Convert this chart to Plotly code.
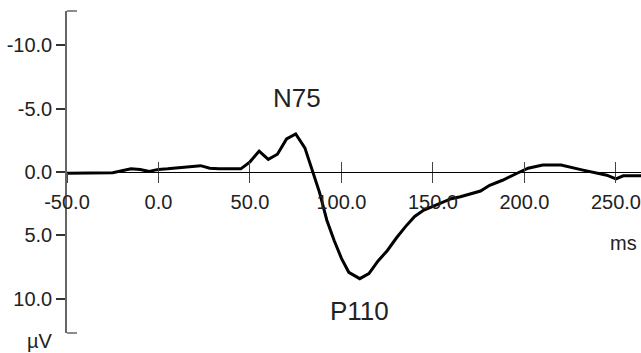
import plotly.graph_objects as go

# Data (latency in ms, amplitude in µV; negative plotted upward)
time_ms = [-50, -40, -30, -25, -20, -15, -10, -5, -2, 0, 5, 12, 18, 23, 28, 33, 40, 45,
           50, 55, 60, 65, 70, 75, 80, 84, 88, 92, 96, 100, 104, 110, 115, 120, 125,
           130, 135, 140, 145, 150, 155, 160, 165, 170, 176, 181, 188, 196, 202, 210,
           220, 232, 245, 250, 254, 264]
amp_uv = [0.1, 0.1, 0.1, 0.05, -0.1, -0.25, -0.2, -0.05, -0.15, -0.2, -0.25, -0.35, -0.4,
          -0.5, -0.3, -0.25, -0.25, -0.25, -0.8, -1.65, -1.0, -1.4, -2.6, -3.0, -1.9,
          -0.2, 1.6, 3.8, 5.4, 6.8, 7.9, 8.4, 8.0, 7.0, 6.2, 5.2, 4.3, 3.5, 3.0, 2.7,
          2.4, 2.1, 1.95, 1.75, 1.5, 1.05, 0.65, 0.1, -0.3, -0.55, -0.55, -0.15, 0.25,
          0.55, 0.3, 0.3]

x_ticks = [-50, 0, 50, 100, 150, 200, 250]
x_tick_labels = ["-50.0", "0.0", "50.0", "100.0", "150.0", "200.0", "250.0"]
y_ticks = [-10, -5, 0, 5, 10]
y_tick_labels = ["-10.0", "-5.0", "0.0", "5.0", "10.0"]

peak_labels = ["N75", "P110"]
peak_pos_ms = [75.7, 110.1]
peak_pos_uv = [-5.83, 10.94]

FONT = "Liberation Sans, Arial, sans-serif"
x_range = [-50, 263.7]
y_range = [12.68, -12.68]  # reversed: negative up
zero_pos = (0 - y_range[0]) / (y_range[1] - y_range[0])

fig = go.Figure()
fig.add_trace(go.Scatter(x=time_ms, y=amp_uv, mode="lines",
                         line=dict(color="black", width=3), showlegend=False,
                         cliponaxis=True))
# dummy trace for the second x axis (inside ticks)
fig.add_trace(go.Scatter(x=[x_range[0]], y=[0], xaxis="x2", mode="markers",
                         marker=dict(opacity=0), showlegend=False, hoverinfo="skip"))

fig.update_layout(
    width=641, height=353,
    margin=dict(l=67, r=0, t=11, b=20, autoexpand=False),
    paper_bgcolor="white", plot_bgcolor="white",
    font=dict(family=FONT, size=20, color="#222"),
    xaxis=dict(range=x_range, anchor="free", position=zero_pos, showline=True,
               linecolor="black", linewidth=1, showgrid=False, zeroline=False,
               ticks="outside", ticklen=10, tickwidth=1, tickcolor="#444",
               tickvals=x_ticks, ticktext=x_tick_labels, tickfont=dict(size=20, color="#222"),
               ticklabelstandoff=2, automargin=False),
    xaxis2=dict(range=x_range, overlaying="x", anchor="free", position=zero_pos,
                showline=False, showgrid=False, zeroline=False, ticks="inside",
                ticklen=10, tickwidth=1, tickcolor="#444", tickvals=x_ticks,
                showticklabels=False, side="bottom", automargin=False),
    yaxis=dict(range=y_range, showline=True, linecolor="#666", linewidth=1.5,
               showgrid=False, zeroline=False, ticks="outside", ticklen=9,
               tickwidth=1.5, tickcolor="#333", tickvals=y_ticks, ticktext=y_tick_labels,
               tickfont=dict(size=20, color="#222"), automargin=False),
    showlegend=False,
)

cap = 10 / 574
for yy in (0, 1):
    fig.add_shape(type="line", xref="paper", yref="paper", x0=0, x1=cap, y0=yy, y1=yy,
                  line=dict(color="#666", width=1.5))

for lab, xv, yv in zip(peak_labels, peak_pos_ms, peak_pos_uv):
    fig.add_annotation(x=xv, y=yv, text=lab, showarrow=False,
                       font=dict(size=26, color="#222"), xanchor="center", yanchor="middle")

fig.add_annotation(x=254.4, y=5.6, text="ms", showarrow=False,
                   font=dict(size=20, color="#222"), xanchor="center", yanchor="middle")
fig.add_annotation(xref="paper", yref="paper", x=-27 / 574, y=-8 / 322, text="µV",
                   showarrow=False, font=dict(size=20, color="#222"),
                   xanchor="center", yanchor="middle")

fig.write_html("out.html", config={"displayModeBar": False},
               post_script="document.body.style.margin='0';document.body.style.overflow='hidden';")
